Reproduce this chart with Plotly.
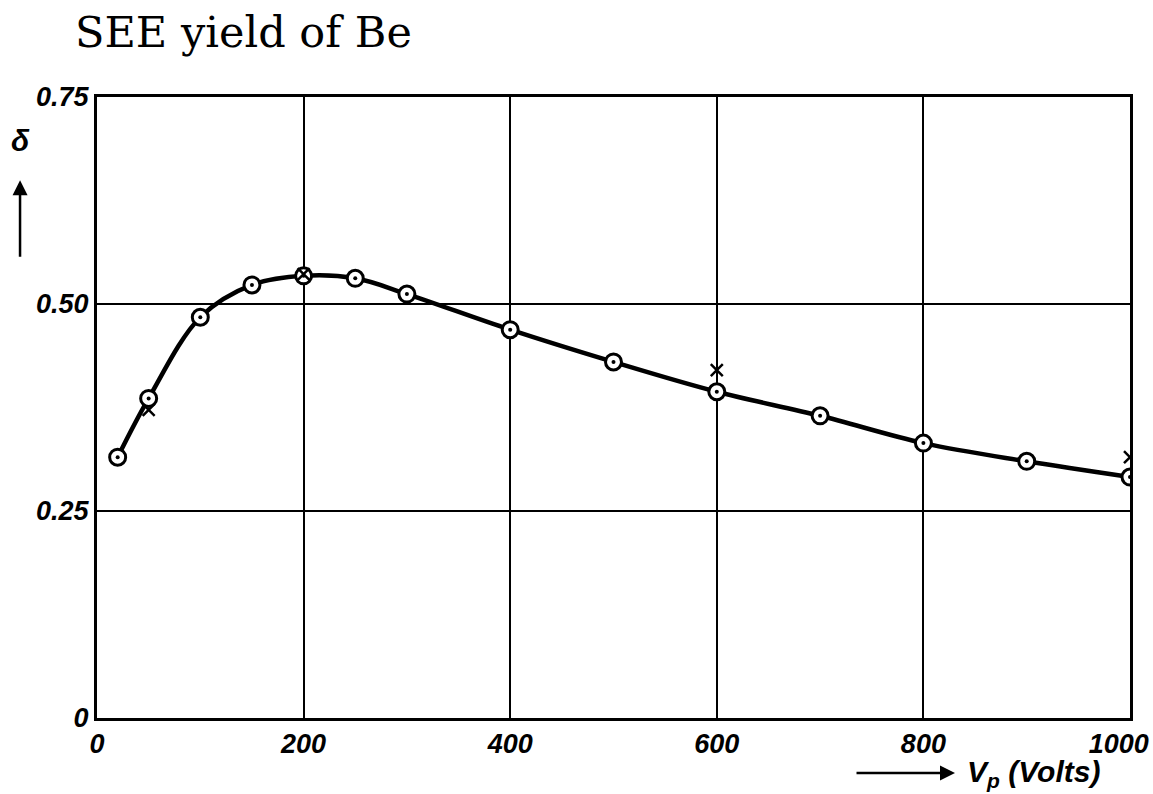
import plotly.graph_objects as go

# Data
vp_circles = [20, 50, 100, 150, 200, 250, 300, 400, 500, 600, 700, 800, 900, 1000]
delta_circles = [0.315, 0.386, 0.484, 0.523, 0.534, 0.531, 0.512, 0.469, 0.430,
                 0.394, 0.365, 0.332, 0.310, 0.291]
vp_crosses = [50, 200, 600, 1000]
delta_crosses = [0.372, 0.536, 0.420, 0.315]

x_ticks = [0, 200, 400, 600, 800, 1000]
x_tick_text = ["0", "200", "400", "600", "800", "1000\u00a0\u00a0\u00a0"]
y_ticks = [0, 0.25, 0.5, 0.75]
y_tick_text = ["0", "0.25", "0.50", "0.75"]

fig = go.Figure()

# smooth curve
fig.add_trace(go.Scatter(x=vp_circles, y=delta_circles, mode="lines",
                         line=dict(color="black", width=4.5, shape="spline", smoothing=1.0),
                         hoverinfo="skip", showlegend=False))
# circle markers
fig.add_trace(go.Scatter(x=vp_circles, y=delta_circles, mode="markers",
                         marker=dict(symbol="circle", size=16, color="white",
                                     line=dict(color="black", width=3)),
                         showlegend=False))
fig.add_trace(go.Scatter(x=vp_circles, y=delta_circles, mode="markers",
                         marker=dict(symbol="circle", size=4, color="black"),
                         showlegend=False))
# crosses
fig.add_trace(go.Scatter(x=vp_crosses, y=delta_crosses, mode="markers",
                         marker=dict(symbol="x-thin", size=12,
                                     line=dict(color="black", width=2.5)),
                         showlegend=False))

tickfont = dict(family="Liberation Sans, Arial, sans-serif", size=27, color="black",
                style="italic", weight="bold")

fig.update_xaxes(range=[0, 1000], tickvals=x_ticks, ticktext=x_tick_text,
                 showgrid=True, gridcolor="black", gridwidth=2,
                 showline=True, linecolor="black", linewidth=3, mirror=True,
                 zeroline=False, tickfont=tickfont, ticks="",
                 ticklabeloverflow="allow", automargin=False)
fig.update_yaxes(range=[0, 0.75], tickvals=y_ticks, ticktext=y_tick_text,
                 showgrid=True, gridcolor="black", gridwidth=2,
                 showline=True, linecolor="black", linewidth=3, mirror=True,
                 zeroline=False, tickfont=tickfont, ticks="",
                 ticklabeloverflow="allow", automargin=False)

annfont = dict(family="Liberation Sans, Arial, sans-serif", size=30, color="black",
               style="italic", weight="bold")

fig.update_layout(
    width=1153, height=794,
    margin=dict(l=97, r=23, t=97, b=76),
    paper_bgcolor="white", plot_bgcolor="white",
    annotations=[
        dict(text="SEE yield of Be", xref="paper", yref="paper",
             x=-0.0232, y=1.104, xanchor="left", yanchor="middle", showarrow=False,
             font=dict(family="DejaVu Serif, serif", size=43, color="black")),
        dict(text="δ", xref="paper", yref="paper", x=-0.0745, y=0.93,
             xanchor="center", yanchor="middle", showarrow=False, font=annfont),
        dict(text="", xref="paper", yref="paper", x=-0.0745, y=0.866,
             ax=0, ay=78, showarrow=True, arrowhead=2, arrowsize=1.2,
             arrowwidth=2.5, arrowcolor="black"),
        dict(text="", xref="paper", yref="paper", x=0.8306, y=-0.0886,
             ax=-100, ay=0, showarrow=True, arrowhead=2, arrowsize=1.2,
             arrowwidth=2.5, arrowcolor="black"),
        dict(text="V<sub>p</sub> (Volts)", xref="paper", yref="paper", x=0.840, y=-0.0886,
             xanchor="left", yanchor="middle", showarrow=False, font=annfont),
    ],
)

fig.write_html("out.html")
